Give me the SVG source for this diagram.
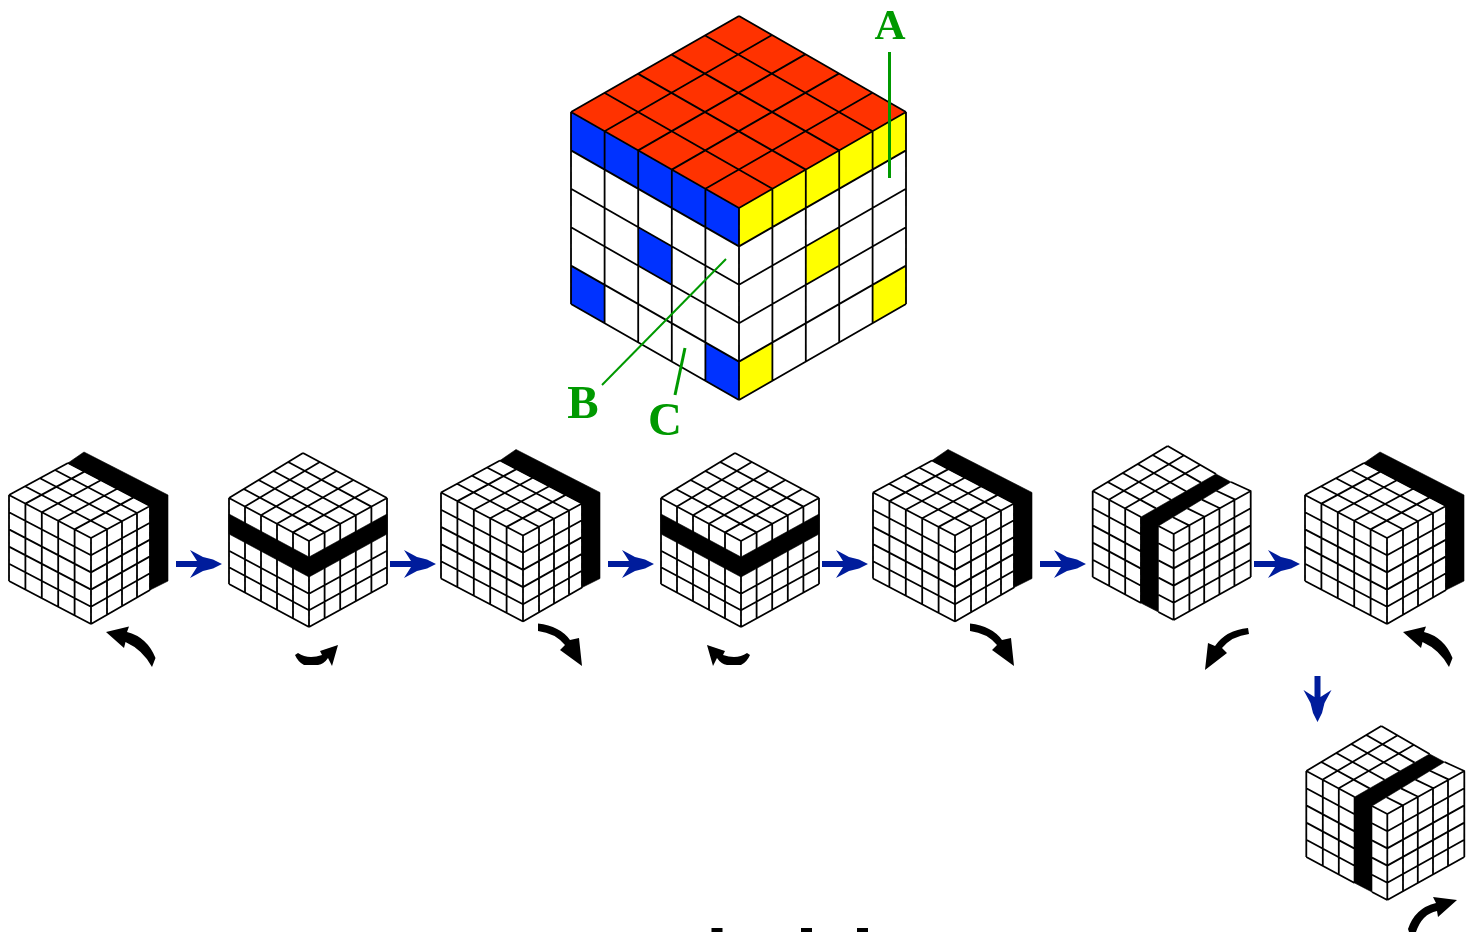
<svg xmlns="http://www.w3.org/2000/svg" xmlns:xlink="http://www.w3.org/1999/xlink" width="1471" height="932" viewBox="0 0 1471 932">
<style>
.g{fill:none;stroke:#000;stroke-width:1.8;stroke-linejoin:round}
.bg{fill:#fff;stroke:none}
.k{fill:#000;stroke:#000;stroke-width:.6}
.b{fill:#0033ff}.y{fill:#ffff00}.r{fill:#ff3300}
.arr{fill:#001e9c}
.cur{fill:#000}
.gl{stroke:#009900;fill:none}
.lab{font-family:"Liberation Serif",serif;font-weight:700;font-size:47px;fill:#009900;text-anchor:middle}
.soft{filter:url(#soft)}
</style>
<defs>
<filter id="soft" filterUnits="userSpaceOnUse" x="0" y="0" width="1471" height="932"><feGaussianBlur stdDeviation="0.45"/></filter>
<g id="cube-r">
<path class="bg" d="M-82,-43L-7,-86L77,-43V43L0,86L-82,43Z"/>
<path class="g" d="M0,0l-82,-43M16,-8.7l-82,-43M31,-16.8l-82,-43M46,-25l-82,-43M59,-32l-82,-43M0,0L59,-32M-16.4,-8.6l59,-32M-32.8,-17.2l59,-32M-49.2,-25.8l59,-32M-65.6,-34.4l59,-32M-82,-43l59,-32M-82,-43V43M-65.6,-34.4V51.6M-49.2,-25.8V60.2M-32.8,-17.2V68.8M-16.4,-8.6V77.4M0,0V86M16,-8.7V77M31,-16.8V68M46,-25V60M59,-32V52M-82,-25.8l82,43M-82,-8.6l82,43M-82,8.6l82,43M-82,25.8l82,43M-82,43l82,43M0,17.2l59,-32.4M0,34.4l59,-32.8M0,51.6l59,-33.2M0,68.8l59,-33.6M0,86l59,-34"/>
<path class="k" d="M-23,-75L-7,-86L77,-43V43L59,52V-32Z"/>
</g>
<g id="cube-m">
<path class="bg" d="M-80,-43L-6,-88L78,-43V43L0,86L-80,43Z"/>
<path class="g" d="M0,0L-80,-43M15.6,-8.6L-65.2,-52M31.2,-17.2L-50.4,-61M46.8,-25.8L-35.6,-70M62.4,-34.4L-20.8,-79M78,-43L-6,-88M0,0L78,-43M-16,-8.6L61.2,-52M-32,-17.2L44.4,-61M-48,-25.8L27.6,-70M-64,-34.4L10.8,-79M-80,-43L-6,-88M-80,-43V43M-64,-34.4V51.6M-48,-25.8V60.2M-32,-17.2V68.8M-16,-8.6V77.4M0,0V86M15.6,-8.6V77.4M31.2,-17.2V68.8M46.8,-25.8V60.2M62.4,-34.4V51.6M78,-43V43M-80,9.7l80,43M-80,26.3l80,43M-80,43l80,43M0,52.7l78,-43M0,69.3l78,-43M0,86l78,-43"/>
<path class="k" d="M-80,-27L0,16L78,-27V-7L0,36L-80,-7Z"/>
</g>
<g id="cube-f">
<path class="bg" d="M-81,-43L-6,-88L77,-43V43L0,86L-81,43Z"/>
<path class="g" d="M-32.7,-17L-81,-43M-17.7,-25.6L-66,-52M-2.7,-34.2L-51,-61M12.3,-42.8L-36,-70M27.3,-51.4L-21,-79M42.3,-60L-6,-88M-48.5,-25.8L26.3,-69M-64.5,-34.4L10,-78.5M-81,-43L-6,-88M-15.3,-8L0,0L77,-43L57.3,-52M15.4,-8.6L-.8,-16.8M30.8,-17.2L13.7,-25.6M46.2,-25.8L28.2,-34.4M61.6,-34.4L42.7,-43.2M-81,-43V43M-64.5,-34.4V51.6M-48.5,-25.8V60.2M-32.7,-17V69M0,0V86M15.7,-8.6V77.4M30.5,-17V69M45.7,-25.2V60.8M60.7,-33.4V52.6M77,-43V43M-81,-25.8l48.3,26M-81,-8.6l48.3,26M-81,8.6l48.3,26M-81,25.8l48.3,26M-81,43l48.3,26M-15.3,9.2L0,17.2M-15.3,26.4L0,34.4M-15.3,43.6L0,51.6M-15.3,60.8L0,68.8M-15.3,78L0,86M0,17.2l77,-43M0,34.4l77,-43M0,51.6l77,-43M0,68.8l77,-43M0,86l77,-43"/>
<path class="k" d="M42.3,-60L57.3,-52L-15.3,-8V78L-32.7,69V-17Z"/>
</g>
<path id="arrow-h" class="arr" d="M0,-3H21L14,-14L27,-7L37,-4.500L46,0L37,4.500L27,7L14,14L21,3H0Z"/>
<path id="turn-a" class="cur" d="M106,632L129,626.500L127,632Q147,637 155.500,658L152,667Q143,650 125.500,642L124,648Z"/>
<path id="turn-b" class="cur" d="M538,623.500Q560,626 570,640L579,638L582,666L560,650L565,645Q555,633 538,631Z"/>
<path id="turn-c" class="cur" d="M295,655L298,653Q308,660 322,655L320,651L338,645L332,666L328,658Q324,664 318,665H304Q298,662 295,655Z"/>
</defs>

<g class="soft">
<g id="big-cube">
<path class="r" d="M739,16L906,112L739,208L571,112Z"/>
<path class="b" d="M571,112L739,208V246.400L571,150.400Z"/>
<path class="y" d="M739,208L906,112V150.400L739,246.400Z"/>
<path fill="#fff" d="M571,150.400L739,246.400L906,150.400V304L739,400L571,304Z"/>
<path class="b" d="M638.200,227.200L671.800,246.400V284.800L638.200,265.600Z"/>
<path class="b" d="M571,265.600L604.600,284.800V323.200L571,304Z"/>
<path class="b" d="M705.400,342.400L739,361.600V400L705.400,380.800Z"/>
<path class="y" d="M805.800,246.400L839.200,227.200V265.600L805.800,284.800Z"/>
<path class="y" d="M872.600,284.800L906,265.600V304L872.600,323.200Z"/>
<path class="y" d="M739,361.600L772.400,342.400V380.800L739,400Z"/>
<path class="g" d="M739,208L571,112M772.400,188.800L604.400,92.800M805.800,169.600L637.800,73.600M839.200,150.400L671.200,54.400M872.600,131.200L704.600,35.200M906,112L739,16M739,208L906,112M705.400,188.800L872.400,92.800M671.800,169.600L838.800,73.600M638.200,150.400L805.200,54.400M604.600,131.200L771.600,35.200M571,112L739,16M571,112V304M604.600,131.200V323.200M638.200,150.400V342.400M671.800,169.600V361.600M705.400,188.800V380.800M739,208V400M772.400,188.800V380.800M805.800,169.600V361.600M839.200,150.400V342.400M872.600,131.200V323.200M906,112V304M571,150.400L739,246.400M571,188.800L739,284.800M571,227.200L739,323.200M571,265.600L739,361.600M571,304L739,400M739,246.400L906,150.400M739,284.800L906,188.800M739,323.200L906,227.200M739,361.600L906,265.600M739,400L906,304"/>
<line class="gl" stroke-width="3" x1="889.500" y1="52" x2="889.500" y2="178"/>
<line class="gl" stroke-width="2" x1="602" y1="385" x2="726" y2="259"/>
<line class="gl" stroke-width="3" x1="685" y1="348" x2="675" y2="395"/>
<text class="lab" x="890" y="38.500" style="font-size:43px">A</text>
<text class="lab" x="583" y="418">B</text>
<text class="lab" x="665" y="435">C</text>
</g>

<g id="cube-1" transform="translate(91,538)"><use href="#cube-r" xlink:href="#cube-r"/></g>
<g id="cube-2" transform="translate(309,541)"><use href="#cube-m" xlink:href="#cube-m"/></g>
<g id="cube-3" transform="translate(523,535.500)"><use href="#cube-r" xlink:href="#cube-r"/></g>
<g id="cube-4" transform="translate(741,541)"><use href="#cube-m" xlink:href="#cube-m"/></g>
<g id="cube-5" transform="translate(955,535.500)"><use href="#cube-r" xlink:href="#cube-r"/></g>
<g id="cube-6" transform="translate(1173.700,534)"><use href="#cube-f" xlink:href="#cube-f"/></g>
<g id="cube-7" transform="translate(1387,538)"><use href="#cube-r" xlink:href="#cube-r"/></g>
<g id="cube-8" transform="translate(1387.300,814)"><use href="#cube-f" xlink:href="#cube-f"/></g>

<g id="connectors">
<use href="#arrow-h" xlink:href="#arrow-h" x="176" y="564"/>
<use href="#arrow-h" xlink:href="#arrow-h" x="390" y="564"/>
<use href="#arrow-h" xlink:href="#arrow-h" x="608" y="564"/>
<use href="#arrow-h" xlink:href="#arrow-h" x="822" y="564"/>
<use href="#arrow-h" xlink:href="#arrow-h" x="1040" y="564"/>
<use href="#arrow-h" xlink:href="#arrow-h" x="1254" y="564"/>
<use href="#arrow-h" xlink:href="#arrow-h" transform="translate(1317.500,676) rotate(90)"/>
</g>

<g id="turn-arrows">
<use href="#turn-a" xlink:href="#turn-a"/>
<use href="#turn-c" xlink:href="#turn-c"/>
<use href="#turn-b" xlink:href="#turn-b"/>
<use href="#turn-c" xlink:href="#turn-c" transform="translate(1045,0) scale(-1,1)"/>
<use href="#turn-b" xlink:href="#turn-b" x="432"/>
<path class="cur" d="M1248,628L1249,634Q1232,636 1222,648L1227,653L1205,670L1208,643L1215,646Q1226,630 1248,628Z"/>
<use href="#turn-a" xlink:href="#turn-a" x="1297"/>
<path class="cur" d="M1408,929Q1415,908 1436,903L1433,897L1457,900L1438,917L1437,911Q1422,914 1416,932H1409Z"/>
</g>

<g id="bottom-marks">
<rect x="711.500" y="928" width="11" height="4"/>
<rect x="801" y="928" width="11" height="4"/>
<rect x="857" y="928" width="11" height="4"/>
</g>
</g>
</svg>
